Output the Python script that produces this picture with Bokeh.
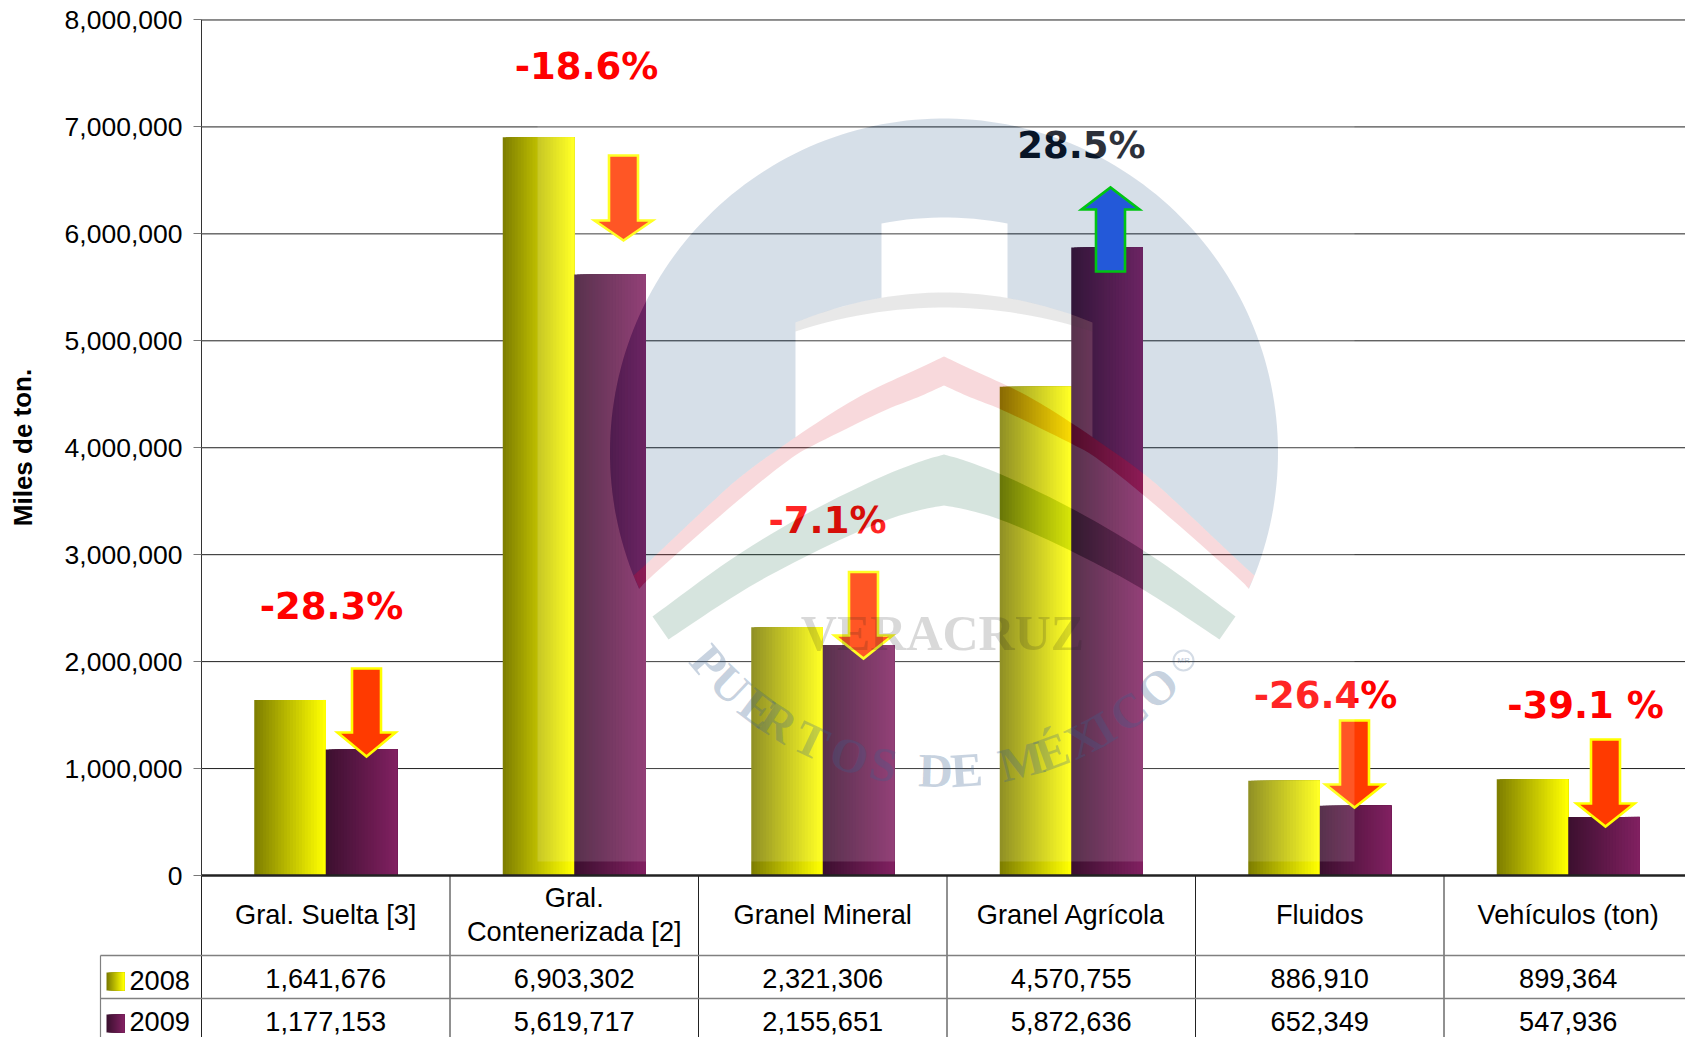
import numpy as np
from bokeh.plotting import figure
from bokeh.models import ColumnDataSource, FixedTicker, NumeralTickFormatter
from bokeh.core.properties import value
from bokeh.embed import file_html
from bokeh.resources import INLINE

# ---------- data ----------
categories = ["Gral. Suelta [3]", "Gral.\nContenerizada [2]", "Granel Mineral",
              "Granel Agrícola", "Fluidos", "Vehículos (ton)"]
series_2008 = [1641676, 6903302, 2321306, 4570755, 886910, 899364]
series_2009 = [1177153, 5619717, 2155651, 5872636, 652349, 547936]
table_2008 = ["1,641,676", "6,903,302", "2,321,306", "4,570,755", "886,910", "899,364"]
table_2009 = ["1,177,153", "5,619,717", "2,155,651", "5,872,636", "652,349", "547,936"]
y_ticks = [0, 1000000, 2000000, 3000000, 4000000, 5000000, 6000000, 7000000, 8000000]
change_labels = ["-28.3%", "-18.6%", "-7.1%", "28.5%", "-26.4%", "-39.1 %"]
y_title = "Miles de ton."
wm_title = "VERACRUZ"
wm_arc = list("PUERTOSDEMÉXICO")

# ---------- layout geometry (page px of the reference) ----------
W, H = 1685, 1037
M = 0
X0, COL = 201.0, 248.5           # axis x, column width
Y0, PXM = 875.0, 106.94          # baseline y, px per million
BAR = 71.5 / COL


def px(x):
    return (np.asarray(x, dtype=float) - X0) / COL


def py(y):
    return (Y0 - np.asarray(y, dtype=float)) / PXM * 1e6


p = figure(width=W, height=H, output_backend="svg", toolbar_location=None, tools="",
           x_range=(float(px(M)), float(px(M + W))), y_range=(float(py(M + H)), float(py(M))),
           min_border=0, min_border_left=0, min_border_right=0, min_border_top=0, min_border_bottom=0,
           outline_line_color=None, background_fill_color="white", border_fill_color="white")
p.xaxis.visible = False
p.xgrid.visible = False
p.ygrid.visible = False

ax = p.yaxis[0]
ax.fixed_location = 0
ax.bounds = (0, 8000000)
ax.ticker = FixedTicker(ticks=y_ticks)
ax.formatter = NumeralTickFormatter(format="0,0")
ax.major_label_text_font = "Liberation Sans"
ax.major_label_text_font_size = "26.5px"
ax.major_label_text_color = "black"
ax.major_tick_out = 8
ax.major_tick_in = 0
ax.minor_tick_line_color = None
ax.major_label_standoff = 11
ax.axis_line_color = "#333333"
ax.major_tick_line_color = "#777777"

# gridlines
xright = float(px(M + W))
p.segment(x0=[0] * len(y_ticks), x1=[xright] * len(y_ticks), y0=y_ticks, y1=y_ticks,
          line_color="#202020", line_width=1)


def lerp(c0, c1, t):
    c = [int(round(a + (b - a) * t)) for a, b in zip(c0, c1)]
    return "#%02x%02x%02x" % tuple(c)


YEL = ((0x7f, 0x7f, 0x00), (0xff, 0xff, 0x00))
PUR = ((0x3d, 0x10, 0x30), (0x80, 0x20, 0x60))


def gradient_bars(lefts, width, tops, bottoms, colors, n=24):
    L, R, T, B, C = [], [], [], [], []
    for l, t, b in zip(lefts, tops, bottoms):
        for k in range(n):
            L.append(l + width * k / n)
            R.append(l + width)
            T.append(t)
            B.append(b)
            C.append(lerp(colors[0], colors[1], k / (n - 1)))
    return ColumnDataSource(dict(left=L, right=R, top=T, bottom=B, color=C))


centers = [i + 0.5 for i in range(len(categories))]
p.quad(left="left", right="right", top="top", bottom="bottom", fill_color="color", line_color=None,
       source=gradient_bars([c - BAR for c in centers], BAR, series_2008, [0] * 6, YEL))
p.quad(left="left", right="right", top="top", bottom="bottom", fill_color="color", line_color=None,
       source=gradient_bars(centers, BAR, series_2009, [0] * 6, PUR))

# baseline
p.segment(x0=[0], x1=[xright], y0=[0], y1=[0], line_color="#222222", line_width=2.5)


# arrows
def arrow_xy(cx, start, base, tip, hw=14.5, hh=29.0):
    xs = [cx - hw, cx + hw, cx + hw, cx + hh, cx, cx - hh, cx - hw]
    ys = [start, start, base, base, tip, base, base]
    return px(xs).tolist(), py(ys).tolist()


arrows = [(366, 668, 732, 756), (623, 155, 220, 240), (863, 571.5, 635, 658),
          (1354, 720, 784, 807), (1605, 739, 803, 826)]
for a in arrows:
    xs, ys = arrow_xy(*a)
    p.patch(xs, ys, fill_color="#ff3a00", line_color="#ffff00", line_width=2.6, line_join="miter")
xs, ys = arrow_xy(1110, 271, 209, 187)
p.patch(xs, ys, fill_color="#2a60ee", line_color="#00e000", line_width=2.6, line_join="miter")

# change labels
lab_x = [331, 586, 827, 1081, 1325, 1585]
lab_y = [606, 66, 520, 145, 695, 705]
lab_c = ["#ff0000", "#ff0000", "#ff0000", "#0a0f1a", "#ff0000", "#ff0000"]
p.text(x=px(lab_x), y=py(lab_y), text=change_labels, text_color=lab_c,
       text_font=value("DejaVu Sans"), text_font_style="bold", text_font_size="37px",
       text_align="center", text_baseline="middle")

# ---------- watermark ----------
CX, CY, CR = 943.5, 452.0, 334.0


def mir(pts):
    return [(2 * CX - x, y) for x, y in pts]


def smooth(pts, it=3):
    pts = [np.array(q, dtype=float) for q in pts]
    for _ in range(it):
        new = [pts[0]]
        for a, b in zip(pts[:-1], pts[1:]):
            new += [0.75 * a + 0.25 * b, 0.25 * a + 0.75 * b]
        new.append(pts[-1])
        pts = new
    return [tuple(q) for q in pts]


red_out = smooth([(633, 575), (646.7, 563), (713, 500), (744, 472), (816, 422), (863, 393), (905, 374), (943.5, 356)])
red_in = smooth([(639, 588), (646, 580), (736.7, 500), (793, 455), (816, 443), (887, 408), (915, 398), (943.5, 385)])
grn_out = smooth([(652, 616), (737, 553), (816, 507), (887, 473), (925, 459), (943.5, 454)])
grn_in = smooth([(668, 639), (744, 588), (816, 550), (887, 518), (925, 508), (943.5, 505)])


def chevron(o, i):
    return o + mir(o)[::-1][1:] + mir(i) + i[::-1][:-1] + [i[0]]


a0 = np.arctan2(588 - CY, 639 - CX)
a1 = np.arctan2(588 - CY, 1248 - CX)
if a0 < 0:
    a0 += 2 * np.pi
ang = np.linspace(a0, a1 + 2 * np.pi, 160)
circle = [(CX + CR * np.cos(t), CY + CR * np.sin(t)) for t in ang]

HL, HR = 795.0, 1092.0
FL, FR = 881.0, 1007.0


def band_top(x):
    return 292 + 30 * ((x - CX) / 148.5) ** 2


def band_bot(x):
    return 307 + 24 * ((x - CX) / 148.5) ** 2


def fun_top(x):
    return 217 + 6 * ((x - CX) / 63.0) ** 2


left_edge = [q for q in red_out if q[0] < HL]
y_hull = float(np.interp(HL, [q[0] for q in red_out], [q[1] for q in red_out]))
blue = (circle + [(2 * CX - 639, 588), (2 * CX - 633, 575)]
        + mir(left_edge)[1:] + [(HR, y_hull)]
        + [(x, band_top(x)) for x in np.linspace(HR, FR, 12)]
        + [(x, fun_top(x)) for x in np.linspace(FR, FL, 16)]
        + [(x, band_top(x)) for x in np.linspace(FL, HL, 12)]
        + [(HL, y_hull)] + left_edge[::-1] + [(639, 588)])
red = chevron(red_out, red_in)
grn = chevron(grn_out, grn_in)
VL, VR, VT, VB = 537, 1354, 112, 861
veil = ([(VL, 588), (VL, VB), (VR, VB), (VR, VT), (VL, VT), (VL, 588)] + blue + [(633, 575)] + red
        + [(652, 616)] + grn + [(639, 588), (VL, 588)])
band = ([(x, band_top(x)) for x in np.linspace(HL, HR, 30)]
        + [(x, band_bot(x)) for x in np.linspace(HR, HL, 30)])


def poly(pts, **kw):
    a = np.array(pts)
    p.patch(px(a[:, 0]).tolist(), py(a[:, 1]).tolist(), line_color=None, **kw)


poly(veil, fill_color="#ffffff", fill_alpha=0.145)
poly(blue, fill_color="#00376f", fill_alpha=0.16)
poly(band, fill_color="#404040", fill_alpha=0.12)
poly(red, fill_color="#ce0014", fill_alpha=0.15)
poly(grn, fill_color="#00572f", fill_alpha=0.16)

p.text(x=[float(px(942))], y=[float(py(632))], text=[wm_title], text_color="#202020", text_alpha=0.17,
       text_font=value("Liberation Serif"), text_font_style="bold", text_font_size="50px",
       text_align="center", text_baseline="middle")

arc_x = [709, 730, 757.5, 778, 811, 849, 883, 935, 966, 1021, 1052, 1083, 1103, 1128, 1157]
R_arc, CY_arc = 312.0, 458.0
th = np.arcsin((np.array(arc_x) - 945.0) / R_arc)
arc_y = CY_arc + R_arc * np.cos(th)
p.text(x=px(arc_x), y=py(arc_y), text=wm_arc, angle=th.tolist(), text_color="#3a6090", text_alpha=0.28,
       text_font=value("Liberation Serif"), text_font_style="bold", text_font_size="48px",
       text_align="center", text_baseline="middle")
p.scatter(x=[float(px(1183))], y=[float(py(660))], marker="circle", size=20, fill_color=None,
          line_color="#2a5080", line_alpha=0.2, line_width=2)
p.text(x=[float(px(1183))], y=[float(py(660))], text=["MR"], text_color="#2a5080", text_alpha=0.25,
       text_font=value("Liberation Sans"), text_font_style="bold", text_font_size="8px",
       text_align="center", text_baseline="middle")

# y title
p.text(x=[float(px(22))], y=[float(py(447))], text=[y_title], angle=[np.pi / 2], text_color="black",
       text_font=value("Liberation Sans"), text_font_style="bold", text_font_size="26px",
       text_align="center", text_baseline="middle")

# ---------- data table ----------
col_edges = [i for i in range(7)]
RY1, RY2 = 955, 998
p.segment(x0=col_edges[:6], x1=col_edges[:6], y0=[0] * 6, y1=[float(py(M + H))] * 6,
          line_color="#222222", line_width=1)
p.segment(x0=[float(px(100))] * 2, x1=[xright] * 2, y0=py([RY1, RY2]).tolist(), y1=py([RY1, RY2]).tolist(),
          line_color="#808080", line_width=1.6)
p.segment(x0=[float(px(100))], x1=[float(px(100))], y0=[float(py(RY1))], y1=[float(py(M + H))],
          line_color="#808080", line_width=1.2)


def tbl(xs, ys, texts, **kw):
    p.text(x=xs, y=ys, text=texts, text_color="black", text_font=value("Liberation Sans"),
           text_font_size="27.2px", text_baseline="middle", **kw)


single = [i for i, c in enumerate(categories) if "\n" not in c]
tbl([centers[i] for i in single], [float(py(914))] * len(single), [categories[i] for i in single],
    text_align="center")
two = categories[1].split("\n")
tbl([centers[1]] * 2, py([896.5, 931]).tolist(), two, text_align="center")
tbl(centers, [float(py(977.5))] * 6, table_2008, text_align="center")
tbl(centers, [float(py(1020.5))] * 6, table_2009, text_align="center")
tbl([float(px(129))] * 2, py([979.5, 1021]).tolist(), ["2008", "2009"], text_align="left")

sw_w = 18 / COL
p.quad(left="left", right="right", top="top", bottom="bottom", fill_color="color", line_color=None,
       source=gradient_bars([float(px(106))], sw_w, [float(py(972))], [float(py(990))], YEL, n=9))
p.quad(left="left", right="right", top="top", bottom="bottom", fill_color="color", line_color=None,
       source=gradient_bars([float(px(106))], sw_w, [float(py(1014))], [float(py(1032))], PUR, n=9))

open("out.html", "w").write(file_html(p, INLINE))
